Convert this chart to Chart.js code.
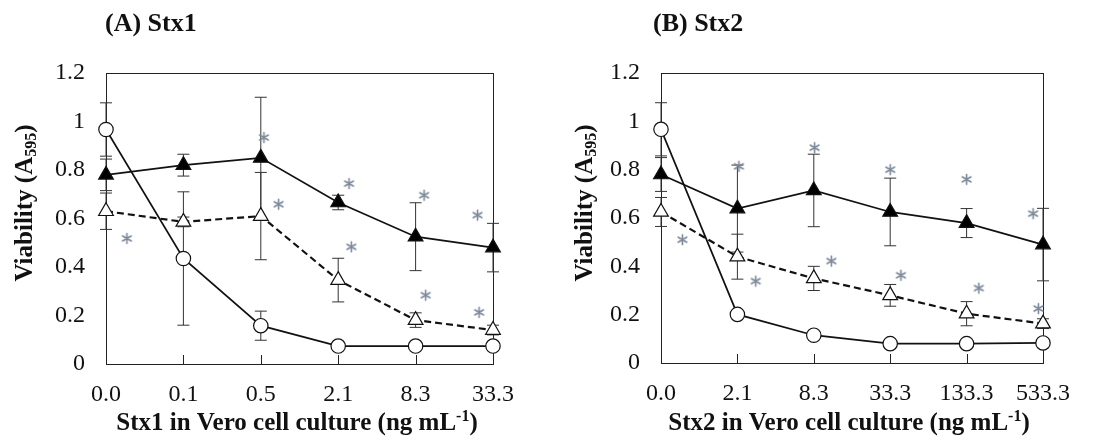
<!DOCTYPE html>
<html>
<head>
<meta charset="utf-8">
<script src="https://cdn.jsdelivr.net/npm/chart.js@4.4.1/dist/chart.umd.min.js"></script>
<style>
  body { margin: 0; background: #fff; }
  .painel { position: absolute; top: 0; width: 549px; height: 446px; }
</style>
</head>
<body>
<div class="painel" style="left:0"><canvas id="graficoA" width="549" height="446"></canvas></div>
<div class="painel" style="left:549px"><canvas id="graficoB" width="549" height="446"></canvas></div>
<script>
// Dados: viabilidade (A595) por concentração de toxina.
// Painel A — Stx1
const rotulosA = ['0.0', '0.1', '0.5', '2.1', '8.3', '33.3'];
const circuloA = [0.967, 0.435, 0.158, 0.074, 0.074, 0.074];
const erroCirculoA = [0.11, 0.275, 0.06, 0, 0, 0];
const cheioA = [0.78, 0.82, 0.85, 0.666, 0.525, 0.48];
const erroCheioA = [0.065, 0.045, 0.25, 0.03, 0.14, 0.10];
const vazioA = [0.63, 0.586, 0.61, 0.346, 0.181, 0.14];
const erroVazioA = [0.075, 0.02, 0.18, 0.09, 0.03, 0.02];
const asteriscoXA = [0.27, 2.04, 2.23, 3.14, 3.17, 4.11, 4.13, 4.8, 4.82];
const asteriscoYA = [0.518, 0.934, 0.659, 0.744, 0.483, 0.696, 0.284, 0.614, 0.213];

// Painel B — Stx2
const rotulosB = ['0.0', '2.1', '8.3', '33.3', '133.3', '533.3'];
const circuloB = [0.967, 0.201, 0.115, 0.080, 0.080, 0.083];
const erroCirculoB = [0.11, 0, 0, 0, 0, 0];
const cheioB = [0.78, 0.639, 0.714, 0.625, 0.579, 0.49];
const erroCheioB = [0.07, 0.18, 0.15, 0.14, 0.06, 0.15];
const vazioB = [0.625, 0.44, 0.35, 0.28, 0.204, 0.163];
const erroVazioB = [0.06, 0.093, 0.05, 0.045, 0.05, 0.02];
const asteriscoXB = [0.28, 1.02, 1.24, 2.01, 2.23, 3.0, 3.14, 4.0, 4.16, 4.87, 4.94];
const asteriscoYB = [0.51, 0.814, 0.339, 0.891, 0.422, 0.8, 0.363, 0.76, 0.31, 0.618, 0.225];

const corTexto = '#111';
const serif = "'Liberation Serif', 'Times New Roman', serif";

const pontos = (valores) => valores.map((v, i) => ({ x: i, y: v }));

// Marcador de asterisco (6 pontas) usado como pointStyle
const asterisco = (() => {
  const c = document.createElement('canvas');
  c.width = 13; c.height = 13;
  const g = c.getContext('2d');
  g.strokeStyle = '#7b8798';
  g.lineWidth = 1.6;
  g.lineCap = 'round';
  g.beginPath();
  for (let k = 0; k < 3; k++) {
    const ang = Math.PI / 2 + k * Math.PI / 3;
    g.moveTo(6.5 + 5 * Math.cos(ang), 6.5 + 5 * Math.sin(ang));
    g.lineTo(6.5 - 5 * Math.cos(ang), 6.5 - 5 * Math.sin(ang));
  }
  g.stroke();
  return c;
})();

// Barras de erro desenhadas por baixo dos marcadores
const barrasErro = {
  id: 'barrasErro',
  beforeDatasetsDraw(chart) {
    const ctx = chart.ctx;
    const escalaY = chart.scales.y;
    ctx.save();
    ctx.strokeStyle = '#333';
    ctx.lineWidth = 1;
    chart.data.datasets.forEach((ds, i) => {
      if (!ds.erros) return;
      chart.getDatasetMeta(i).data.forEach((pt, j) => {
        const e = ds.erros[j];
        if (!e) return;
        const v = ds.data[j].y;
        const yTopo = escalaY.getPixelForValue(v + e);
        const yBase = escalaY.getPixelForValue(v - e);
        ctx.beginPath();
        ctx.moveTo(pt.x, yTopo); ctx.lineTo(pt.x, yBase);
        ctx.moveTo(pt.x - 6, yTopo); ctx.lineTo(pt.x + 6, yTopo);
        ctx.moveTo(pt.x - 6, yBase); ctx.lineTo(pt.x + 6, yBase);
        ctx.stroke();
      });
    });
    ctx.restore();
  },
};

// Moldura da área do gráfico e marcas internas do eixo x
const moldura = {
  id: 'moldura',
  beforeDatasetsDraw(chart) {
    const { ctx, chartArea: a } = chart;
    ctx.save();
    ctx.strokeStyle = '#222';
    ctx.lineWidth = 1;
    ctx.strokeRect(a.left + 0.5, a.top + 0.5, a.right - a.left, a.bottom - a.top);
    ctx.beginPath();
    chart.scales.x.ticks.forEach((t) => {
      const x = Math.round(chart.scales.x.getPixelForValue(t.value)) + 0.5;
      ctx.moveTo(x, a.bottom);
      ctx.lineTo(x, a.bottom - 9);
    });
    ctx.stroke();
    ctx.restore();
  },
};

// Títulos com subscrito / sobrescrito
function textoPartes(ctx, partes, cx, cy) {
  const medidas = partes.map((p) => {
    ctx.font = p.fonte;
    return ctx.measureText(p.t).width;
  });
  let x = cx - medidas.reduce((s, w) => s + w, 0) / 2;
  partes.forEach((p, i) => {
    ctx.font = p.fonte;
    ctx.fillText(p.t, x, cy + (p.dy || 0));
    x += medidas[i];
  });
}

const rotulos = {
  id: 'rotulos',
  afterDraw(chart, args, opts) {
    const ctx = chart.ctx;
    const grande = `bold 25px ${serif}`;
    const pequeno = `bold 16px ${serif}`;
    ctx.save();
    ctx.fillStyle = corTexto;
    ctx.textBaseline = 'middle';
    ctx.textAlign = 'left';
    ctx.font = `bold 26px ${serif}`;
    ctx.fillText(opts.painel, opts.painelX, 24);

    textoPartes(ctx, [
      { t: opts.eixoX, fonte: grande },
      { t: '-1', fonte: pequeno, dy: -7 },
      { t: ')', fonte: grande },
    ], opts.eixoXCentro, 424);

    ctx.translate(opts.eixoYX, 203);
    ctx.rotate(-Math.PI / 2);
    textoPartes(ctx, [
      { t: 'Viability (A', fonte: grande },
      { t: '595', fonte: pequeno, dy: 6 },
      { t: ')', fonte: grande },
    ], 0, 0);
    ctx.restore();
  },
};

function criarGrafico(canvasId, p) {
  const serieBase = { clip: false, borderColor: '#111', borderWidth: 1.7, pointBorderWidth: 1.2, pointBorderColor: '#111' };
  new Chart(document.getElementById(canvasId), {
    type: 'scatter',
    data: {
      datasets: [
        { ...serieBase, label: 'asteriscos', data: p.astX.map((x, i) => ({ x, y: p.astY[i] })),
          showLine: false, pointStyle: asterisco, pointRadius: 6 },
        { ...serieBase, label: 'cheio', data: pontos(p.cheio), erros: p.erroCheio, showLine: true,
          pointStyle: 'triangle', pointRadius: 8.5, pointBackgroundColor: '#000' },
        { ...serieBase, label: 'vazio', data: pontos(p.vazio), erros: p.erroVazio, showLine: true, borderDash: [7, 4],
          borderWidth: 2.2, pointStyle: 'triangle', pointRadius: 8.5, pointBackgroundColor: '#fff' },
        { ...serieBase, label: 'circulo', data: pontos(p.circulo), erros: p.erroCirculo, showLine: true,
          pointStyle: 'circle', pointRadius: 7.2, pointBackgroundColor: '#fff' },
      ],
    },
    options: {
      responsive: false,
      animation: false,
      events: [],
      layout: { padding: { top: 73, right: p.direita, left: 0, bottom: 0 } },
      plugins: {
        legend: { display: false },
        tooltip: { enabled: false },
        rotulos: p.textos,
      },
      scales: {
        x: {
          type: 'linear', min: 0, max: 5,
          afterFit: (s) => { s.height = p.alturaX; },
          afterBuildTicks: (s) => { s.ticks = p.rotulos.map((_, i) => ({ value: i })); },
          grid: { display: false, drawTicks: false },
          border: { display: false },
          ticks: { autoSkip: false, maxRotation: 0, padding: 16, color: corTexto,
            font: { family: serif, size: 24 }, callback: (v) => p.rotulos[v] },
        },
        y: {
          min: 0, max: 1.2,
          afterFit: (s) => { s.width = p.larguraY; },
          grid: { display: false, drawTicks: false },
          border: { display: false },
          ticks: { stepSize: 0.2, padding: 21, color: corTexto, font: { family: serif, size: 24 },
            callback: (v) => String(Math.round(v * 10) / 10) },
        },
      },
    },
    plugins: [moldura, barrasErro, rotulos],
  });
}

criarGrafico('graficoA', {
  rotulos: rotulosA, circulo: circuloA, erroCirculo: erroCirculoA, cheio: cheioA, erroCheio: erroCheioA,
  vazio: vazioA, erroVazio: erroVazioA, astX: asteriscoXA, astY: asteriscoYA,
  larguraY: 106, alturaX: 82, direita: 56,
  textos: { painel: '(A) Stx1', painelX: 105, eixoX: 'Stx1 in Vero cell culture (ng mL', eixoXCentro: 297, eixoYX: 26 },
});

criarGrafico('graficoB', {
  rotulos: rotulosB, circulo: circuloB, erroCirculo: erroCirculoB, cheio: cheioB, erroCheio: erroCheioB,
  vazio: vazioB, erroVazio: erroVazioB, astX: asteriscoXB, astY: asteriscoYB,
  larguraY: 112, alturaX: 83, direita: 55,
  textos: { painel: '(B) Stx2', painelX: 104, eixoX: 'Stx2 in Vero cell culture (ng mL', eixoXCentro: 300, eixoYX: 37 },
});
</script>
</body>
</html>
